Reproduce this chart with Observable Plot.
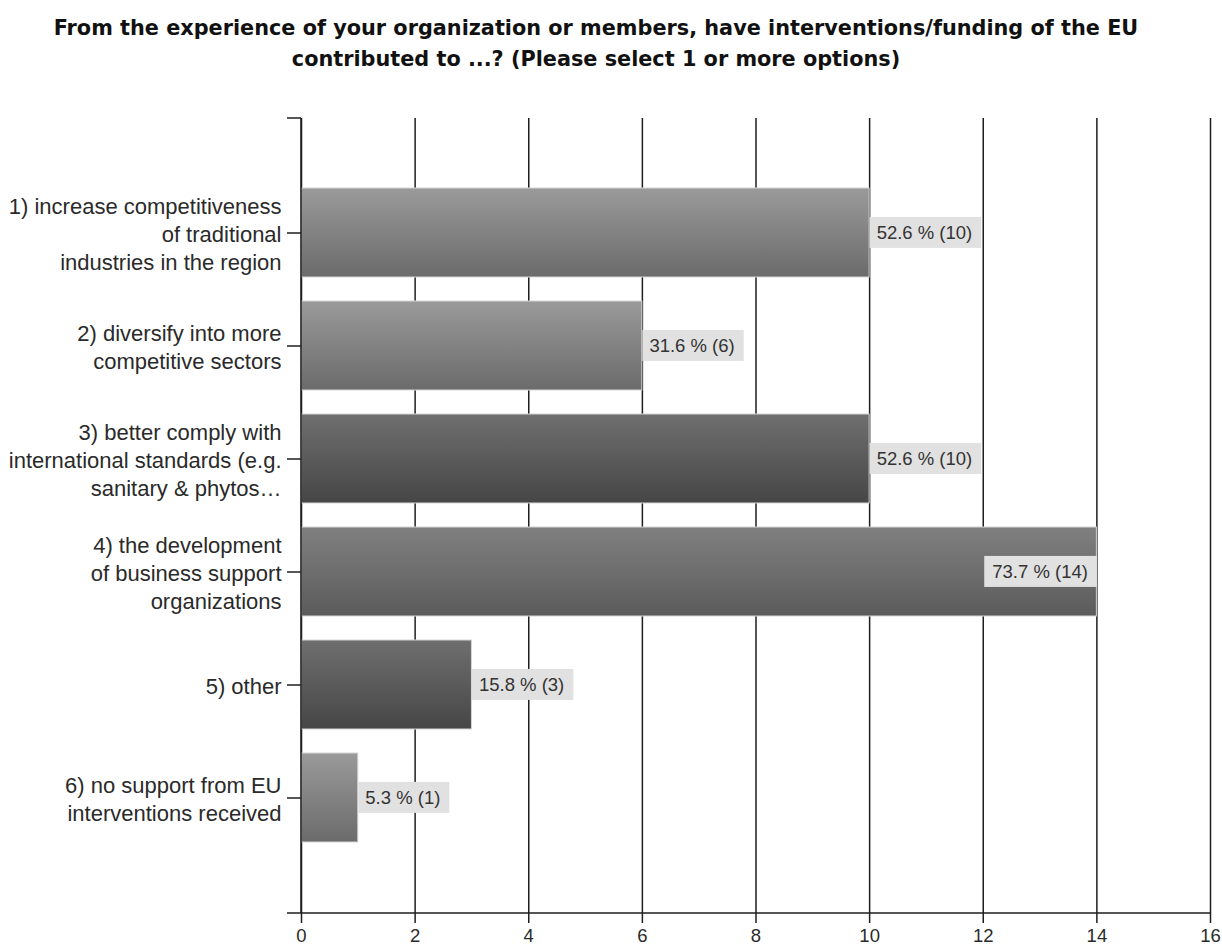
<!DOCTYPE html>
<html><head><meta charset="utf-8">
<script src="https://cdn.jsdelivr.net/npm/d3@7"></script>
<script src="https://cdn.jsdelivr.net/npm/@observablehq/plot@0.6"></script>
<style>
body{margin:0;background:#fff;}
#title{font-family:"DejaVu Sans",sans-serif;font-weight:bold;font-size:20.8px;line-height:31px;text-align:center;width:1192px;padding-top:13px;height:87px;color:#111;}
#chart svg{display:block;}
</style></head><body>
<div id="title">From the experience of your organization or members, have interventions/funding of the EU<br>contributed to ...? (Please select 1 or more options)</div>
<div id="chart"></div>
<script>
const categories = [
  "1) increase competitiveness of traditional industries in the region",
  "2) diversify into more competitive sectors",
  "3) better comply with international standards (e.g. sanitary & phytos...",
  "4) the development of business support organizations",
  "5) other",
  "6) no support from EU interventions received"
];
const categoryLabels = [
  "1) increase competitiveness\nof traditional\nindustries in the region",
  "2) diversify into more\ncompetitive sectors",
  "3) better comply with\ninternational standards (e.g.\nsanitary & phytos\u2026",
  "4) the development\nof business support\norganizations",
  "5) other",
  "6) no support from EU\ninterventions received"
];
const counts = [10, 6, 10, 14, 3, 1];
const percents = [52.6, 31.6, 52.6, 73.7, 15.8, 5.3];
const xTicks = [0, 2, 4, 6, 8, 10, 12, 14, 16];

const data = categories.map((c, i) => ({
  category: c,
  label: categoryLabels[i],
  count: counts[i],
  text: `${percents[i].toFixed(1)} % (${counts[i]})`
}));

// styling (not data)
const tone = ["light", "light", "dark", "mid", "dark", "light"];
const gradients = {
  light: ["#9a9a9a", "#6b6b6b"],
  mid: ["#808080", "#5b5b5b"],
  dark: ["#6f6f6f", "#464646"]
};
const lineColor = "#1e1e1e";

function defsMark() {
  const g = d3.create("svg:g");
  const defs = g.append("defs");
  for (const [k, [c0, c1]] of Object.entries(gradients)) {
    const lg = defs.append("linearGradient").attr("id", "grad-" + k)
      .attr("x1", 0).attr("y1", 0).attr("x2", 0).attr("y2", 1);
    lg.append("stop").attr("offset", "0%").attr("stop-color", c0);
    lg.append("stop").attr("offset", "100%").attr("stop-color", c1);
  }
  return g.node();
}

function frameMark(index, scales, values, dimensions) {
  const {x} = scales;
  const {height, marginTop, marginBottom} = dimensions;
  const x0 = x(0), x1 = x(16), yb = height - marginBottom;
  const g = d3.create("svg:g").attr("stroke", lineColor).attr("stroke-width", 1.5).attr("fill", "none");
  g.append("line").attr("x1", x0).attr("x2", x0).attr("y1", marginTop).attr("y2", yb);
  g.append("line").attr("x1", x0 - 14).attr("x2", x0).attr("y1", marginTop).attr("y2", marginTop);
  g.append("line").attr("x1", x0 - 14).attr("x2", x1).attr("y1", yb).attr("y2", yb);
  return g.node();
}

const inside = d => d.count > 12;
const hasAxisMarks = typeof Plot.axisX === "function";

const axisMarks = hasAxisMarks ? [
  Plot.axisX({ticks: xTicks, tickSize: 10, tickPadding: 5, fontSize: 18.5, stroke: lineColor, strokeWidth: 1.5, fill: "#2a2a2a", label: null}),
  Plot.axisY({tickSize: 14, tickFormat: () => "", stroke: lineColor, strokeWidth: 1.5, label: null})
] : [];

const chart = Plot.plot({
  width: 1222,
  height: 847,
  marginTop: 18,
  marginBottom: 34,
  marginLeft: 301,
  marginRight: 12,
  style: {fontFamily: "'Liberation Sans', Arial, sans-serif", fontSize: "18.5px", color: "#2a2a2a", background: "white"},
  x: hasAxisMarks ? {domain: [0, 16], label: null} : {domain: [0, 16], ticks: xTicks, tickSize: 10, tickPadding: 5, label: null},
  y: hasAxisMarks ? {domain: categories, paddingInner: 0.21, paddingOuter: 0.605, label: null}
                  : {domain: categories, paddingInner: 0.21, paddingOuter: 0.605, tickSize: 14, tickFormat: () => "", label: null},
  color: {type: "identity"},
  marks: [
    defsMark,
    Plot.ruleX(xTicks, {stroke: lineColor, strokeWidth: 1.5}),
    Plot.barX(data, {y: "category", x: "count", fill: d => `url(#grad-${tone[categories.indexOf(d.category)]})`, stroke: "#d6d6d6", strokeWidth: 1}),
    ...axisMarks,
    frameMark,
    Plot.text(data, {y: "category", x: 0, text: "label", textAnchor: "end", dx: -20, lineHeight: 1.27, fontSize: 22, fill: "#2a2a2a"}),
    Plot.text(data.filter(d => !inside(d)), {y: "category", x: "count", text: "text", textAnchor: "start", dx: 7, fontSize: 18.5, fill: "#333"}),
    Plot.text(data.filter(inside), {y: "category", x: "count", text: "text", textAnchor: "end", dx: -9, fontSize: 18.5, fill: "#333"})
  ]
});
document.getElementById("chart").append(chart);

// background boxes behind value labels
const valueTexts = new Map(data.map(d => [d.text, d]));
d3.select(chart).selectAll("text").each(function () {
  const d = valueTexts.get(this.textContent);
  if (!d) return;
  const bb = this.getBBox();
  const xStart = bb.x - (inside(d) ? 8 : 7);
  const xEnd = bb.x + bb.width + 9;
  const cy = bb.y + bb.height / 2;
  const r = document.createElementNS("http://www.w3.org/2000/svg", "rect");
  r.setAttribute("x", xStart);
  r.setAttribute("y", cy - 15.5);
  r.setAttribute("width", xEnd - xStart);
  r.setAttribute("height", 31);
  r.setAttribute("fill", "#e1e1e1");
  const tf = this.getAttribute("transform");
  if (tf) r.setAttribute("transform", tf);
  this.parentNode.insertBefore(r, this);
});
</script>
</body></html>
